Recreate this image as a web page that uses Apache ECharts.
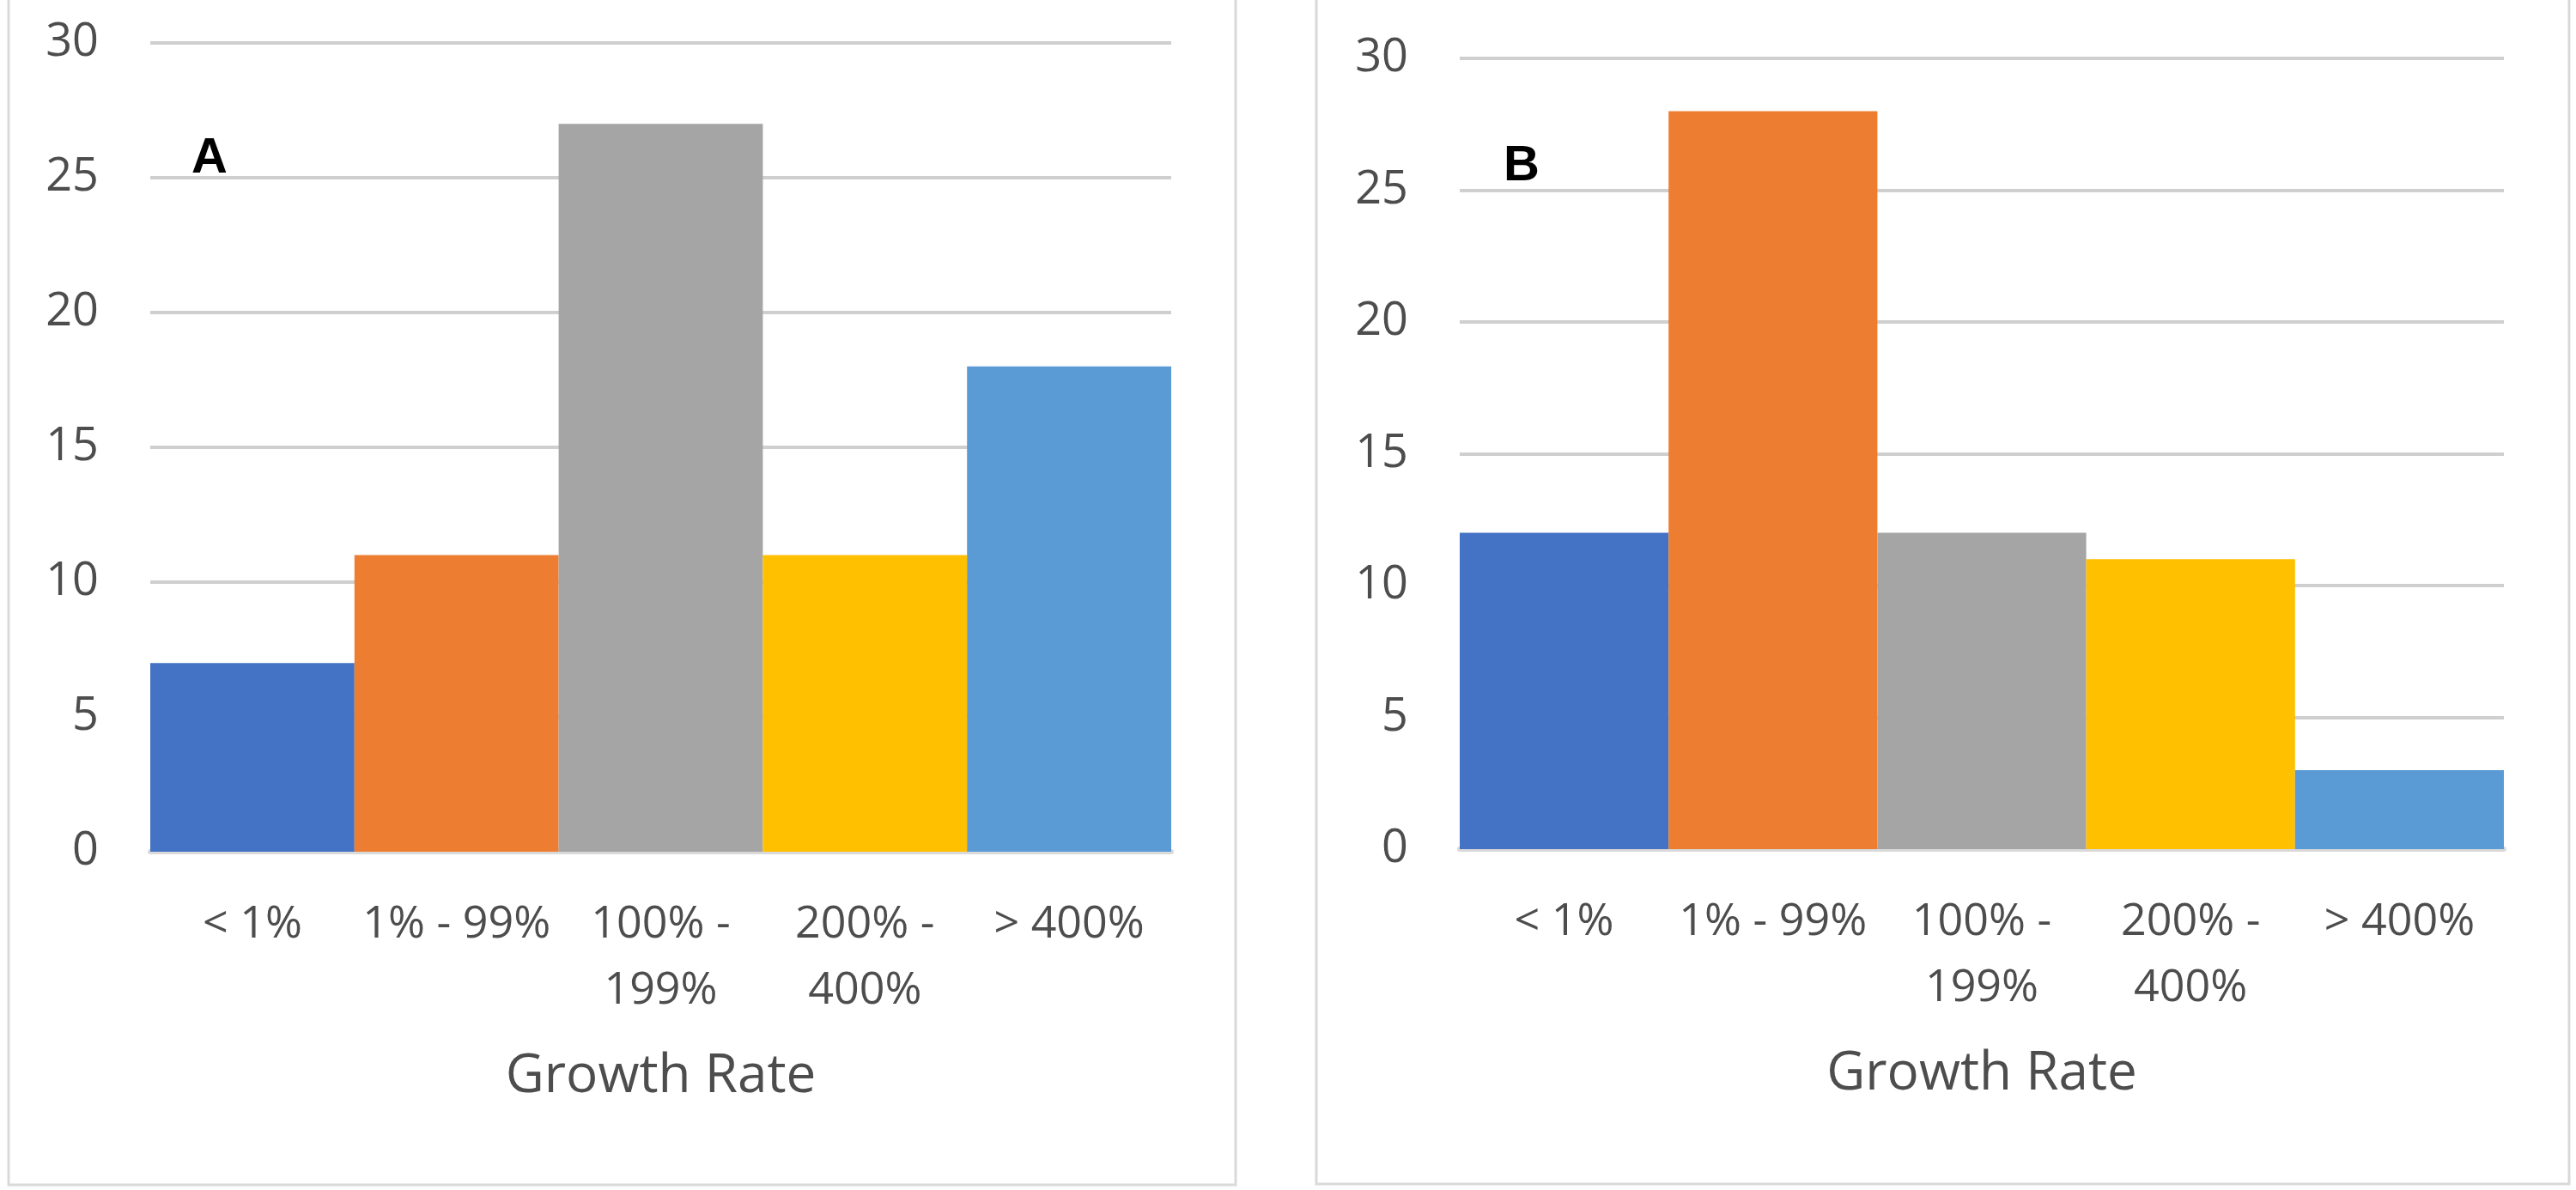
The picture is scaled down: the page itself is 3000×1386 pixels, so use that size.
<!DOCTYPE html>
<html>
<head>
<meta charset="utf-8">
<script src="https://cdn.jsdelivr.net/npm/echarts@6/dist/echarts.min.js"></script>
<style>
html,body{margin:0;padding:0;background:#fff;}
#chart{width:3000px;height:1386px;}
</style>
</head>
<body>
<div id="chart"></div>
<script>
var categories = ["< 1%", "1% - 99%", "100% - 199%", "200% - 400%", "> 400%"];
var valuesA = [7, 11, 27, 11, 18];
var valuesB = [12, 28, 12, 11, 3];
var yTicks = {min: 0, max: 30, interval: 5};
var panelLabels = ["A", "B"];
var axisTitle = "Growth Rate";
var barColors = ["#4472C4", "#ED7D31", "#A5A5A5", "#FFC000", "#5B9BD5"];

var FONT = "Open Sans";
var TXT = "#4d4d4d";

function wrapLabel(v) {
  return v.length > 8 ? v.replace(" - ", " -\n") : v;
}

function makeX(gridIndex) {
  return {
    type: "category",
    gridIndex: gridIndex,
    data: categories,
    axisTick: {show: false},
    axisLine: {show: true, lineStyle: {color: "#d9d9d9", width: 6}},
    axisLabel: {
      interval: 0,
      formatter: wrapLabel,
      fontFamily: FONT, fontSize: 52, color: TXT,
      lineHeight: 77, margin: 47, verticalAlign: "top"
    },
    name: axisTitle,
    nameLocation: "middle",
    nameGap: 262,
    nameTextStyle: {fontFamily: FONT, fontSize: 62, color: TXT, verticalAlign: "middle"}
  };
}
function makeY(gridIndex) {
  return {
    type: "value",
    gridIndex: gridIndex,
    min: yTicks.min, max: yTicks.max, interval: yTicks.interval,
    axisLine: {show: false},
    axisTick: {show: false},
    splitLine: {lineStyle: {color: "#cfcfcf", width: 4}},
    axisLabel: {fontFamily: FONT, fontSize: 54, color: TXT, margin: 60}
  };
}
function makeData(vals) {
  return vals.map(function (v, i) {
    return {value: v, itemStyle: {color: barColors[i]}};
  });
}

var chart = echarts.init(document.getElementById("chart"), null, {renderer: "canvas"});
chart.setOption({
  backgroundColor: "#ffffff",
  animation: false,
  title: [
    {text: panelLabels[0], left: 223, top: 156, textStyle: {fontFamily: "Liberation Sans", fontWeight: "bold", fontSize: 58, color: "#000"}, padding: 0},
    {text: panelLabels[1], left: 1751, top: 165, textStyle: {fontFamily: "Liberation Sans", fontWeight: "bold", fontSize: 58, color: "#000"}, padding: 0}
  ],
  grid: [
    {left: 175, top: 50, width: 1189, height: 942},
    {left: 1700, top: 68, width: 1216, height: 921}
  ],
  xAxis: [makeX(0), makeX(1)],
  yAxis: [makeY(0), makeY(1)],
  series: [
    {type: "bar", xAxisIndex: 0, yAxisIndex: 0, barCategoryGap: "0%", data: makeData(valuesA)},
    {type: "bar", xAxisIndex: 1, yAxisIndex: 1, barCategoryGap: "0%", data: makeData(valuesB)}
  ],
  graphic: [
    {type: "rect", shape: {x: 10, y: -10, width: 1429, height: 1390}, style: {fill: null, stroke: "#d9d9d9", lineWidth: 3}, silent: true},
    {type: "rect", shape: {x: 1533, y: -10, width: 1459, height: 1389}, style: {fill: null, stroke: "#d9d9d9", lineWidth: 3}, silent: true}
  ]
});
</script>
</body>
</html>
